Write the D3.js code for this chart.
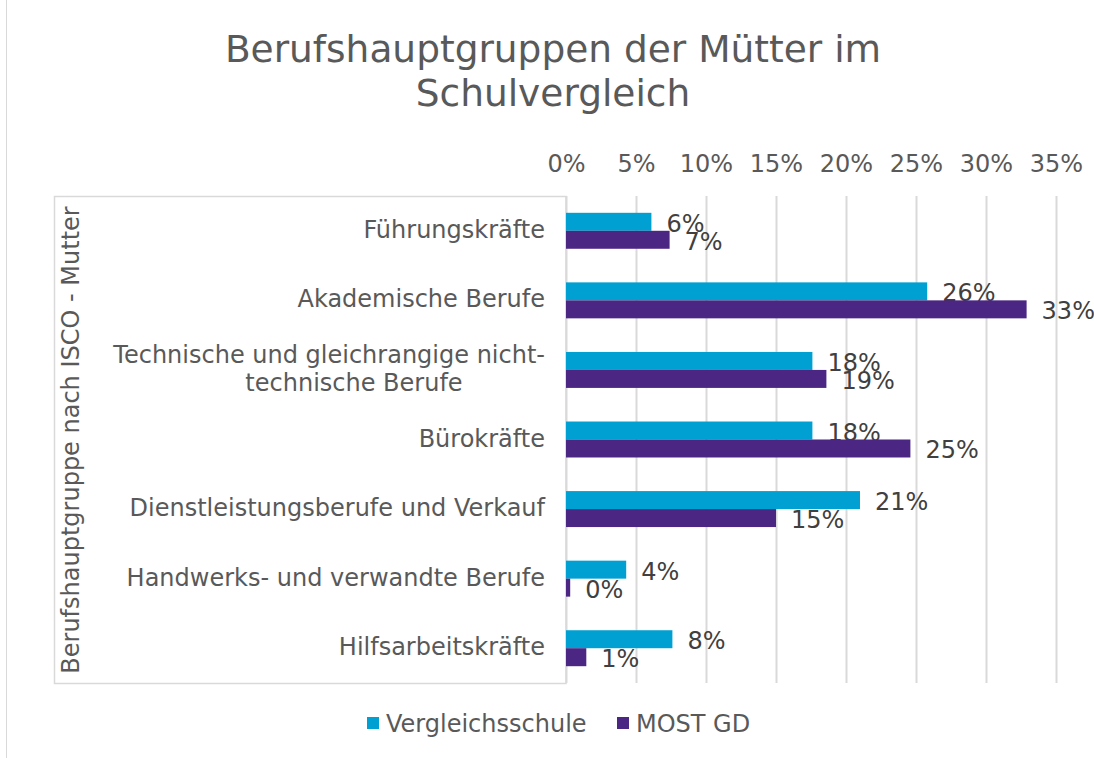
<!DOCTYPE html>
<html>
<head>
<meta charset="utf-8">
<script src="https://cdn.jsdelivr.net/npm/d3@7"></script>
<style>
  body { margin: 0; background: #fff; }
  svg text { font-family: "DejaVu Sans", Verdana, sans-serif; fill: #595959; }
</style>
</head>
<body>
<svg id="chart" width="1094" height="758"></svg>
<script>
// categories, top to bottom
var categories = [
  'Führungskräfte',
  'Akademische Berufe',
  'Technische und gleichrangige nicht-technische Berufe',
  'Bürokräfte',
  'Dienstleistungsberufe und Verkauf',
  'Handwerks- und verwandte Berufe',
  'Hilfsarbeitskräfte'
];
// label lines (long one wraps in two)
var categoryLines = [
  ['Führungskräfte'],
  ['Akademische Berufe'],
  ['Technische und gleichrangige nicht-', 'technische Berufe'],
  ['Bürokräfte'],
  ['Dienstleistungsberufe und Verkauf'],
  ['Handwerks- und verwandte Berufe'],
  ['Hilfsarbeitskräfte']
];
var seriesNames = ['Vergleichsschule', 'MOST GD'];
var vergleichsschule = [0.061, 0.258, 0.176, 0.176, 0.210, 0.043, 0.076];
var mostGd = [0.074, 0.329, 0.186, 0.246, 0.150, 0.003, 0.0145];
var xTicks = [0, 0.05, 0.10, 0.15, 0.20, 0.25, 0.30, 0.35];
var colors = ['#00A0D2', '#4B2683'];

var svg = d3.select('#chart');
var FONT = 24;
var plotLeft = 566, plotRight = 1056, plotTop = 196, plotBottom = 683;

var x = d3.scaleLinear().domain([0, 0.35]).range([plotLeft, plotRight]);
var y = d3.scaleBand().domain(categories).range([plotTop, plotBottom])
    .paddingInner(0.483).paddingOuter(0.2415);
var ySub = d3.scaleBand().domain(seriesNames).range([0, y.bandwidth()]);
var fmt = d3.format('.0%');

// outer frame line on the left
svg.append('line')
    .attr('x1', 6.5).attr('x2', 6.5).attr('y1', 0).attr('y2', 758)
    .style('stroke', '#d9d9d9').style('stroke-width', 1);

// title
svg.append('text')
    .attr('text-anchor', 'middle')
    .style('font-size', '37.5px')
    .selectAll('tspan')
    .data(['Berufshauptgruppen der Mütter im', 'Schulvergleich'])
  .enter().append('tspan')
    .attr('x', 553)
    .attr('y', function(d, i) { return 62 + i * 44; })
    .text(function(d) { return d; });

// box around the category label area
svg.append('rect')
    .attr('x', 54.5).attr('y', plotTop + 0.5)
    .attr('width', plotLeft - 54.5).attr('height', plotBottom - plotTop)
    .style('fill', 'none').style('stroke', '#d9d9d9').style('stroke-width', 1.5);

// gridlines
svg.append('g').selectAll('line')
    .data(xTicks)
  .enter().append('line')
    .attr('x1', function(d) { return Math.round(x(d)) + 0.5; })
    .attr('x2', function(d) { return Math.round(x(d)) + 0.5; })
    .attr('y1', plotTop).attr('y2', plotBottom)
    .style('stroke', '#d9d9d9').style('stroke-width', 2);

// top axis
var xAxis = d3.axisTop(x).tickValues(xTicks).tickFormat(fmt).tickSize(0).tickPadding(0);
var axisG = svg.append('g')
    .attr('transform', 'translate(0,172)')
    .call(xAxis);
axisG.select('.domain').remove();
axisG.selectAll('text')
    .style('font-size', FONT + 'px')
    .style('font-family', '"DejaVu Sans", Verdana, sans-serif')
    .attr('fill', '#595959')
    .attr('dy', 0);

// category labels
var catG = svg.append('g');
categories.forEach(function(c, i) {
  var cy = y(c) + y.bandwidth() / 2;
  var lines = categoryLines[i];
  var t = catG.append('text').style('font-size', FONT + 'px');
  lines.forEach(function(line, j) {
    var base = cy + 7 - (lines.length - 1) * 14 + j * 28;
    if (lines.length > 1 && j > 0) {
      t.append('tspan').attr('x', 354).attr('y', base)
          .attr('text-anchor', 'middle').text(line);
    } else {
      t.append('tspan').attr('x', 545).attr('y', base)
          .attr('text-anchor', 'end').text(line);
    }
  });
});

// axis title
svg.append('text')
    .attr('transform', 'translate(79,440) rotate(-90)')
    .attr('text-anchor', 'middle')
    .style('font-size', FONT + 'px')
    .text('Berufshauptgruppe nach ISCO - Mutter');

// bars
var series = [vergleichsschule, mostGd];
series.forEach(function(values, s) {
  var g = svg.append('g');
  g.selectAll('rect')
      .data(values)
    .enter().append('rect')
      .attr('x', x(0))
      .attr('y', function(d, i) { return y(categories[i]) + ySub(seriesNames[s]); })
      .attr('width', function(d) { return x(d) - x(0); })
      .attr('height', ySub.bandwidth())
      .style('fill', colors[s]);
  g.selectAll('text')
      .data(values)
    .enter().append('text')
      .attr('x', function(d) { return x(d) + 15; })
      .attr('y', function(d, i) {
        return y(categories[i]) + ySub(seriesNames[s]) + ySub.bandwidth() / 2 + 10;
      })
      .style('font-size', FONT + 'px')
      .style('fill', '#404040')
      .text(function(d) { return fmt(d); });
});

// legend
var legendX = [367, 617];
var legend = svg.append('g');
seriesNames.forEach(function(name, i) {
  legend.append('rect')
      .attr('x', legendX[i]).attr('y', 717)
      .attr('width', 12).attr('height', 12)
      .style('fill', colors[i]);
  legend.append('text')
      .attr('x', legendX[i] + 19).attr('y', 732)
      .style('font-size', FONT + 'px')
      .text(name);
});
</script>
</body>
</html>
